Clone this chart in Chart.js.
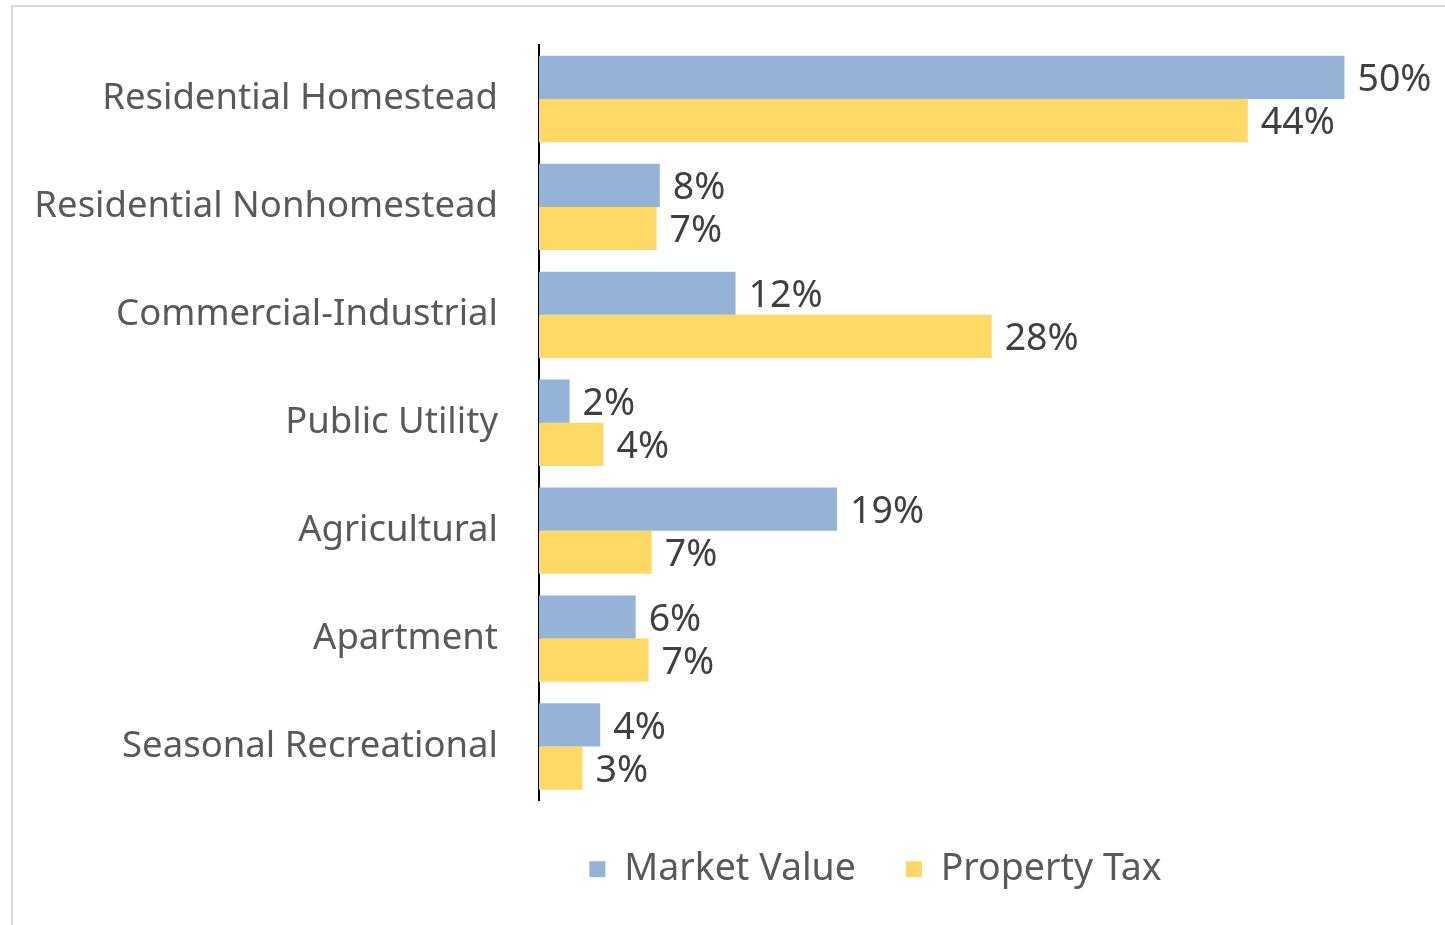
<!DOCTYPE html>
<html>
<head>
<meta charset="utf-8">
<script src="https://cdn.jsdelivr.net/npm/chart.js@4.4.0/dist/chart.umd.min.js"></script>
<style>
  html, body { margin: 0; padding: 0; background: #fff; }
  #wrap { position: relative; width: 1445px; height: 925px; overflow: hidden; }
  #frame { position: absolute; left: 11px; top: 5px; width: 1460px; height: 940px; border: 2px solid #d9d9d9; box-sizing: border-box; }
  canvas { position: absolute; left: 0; top: 0; }
</style>
</head>
<body>
<div id="wrap">
  <div id="frame"></div>
  <canvas id="c" width="1445" height="925"></canvas>
</div>
<script>
const categories = [
  "Residential Homestead",
  "Residential Nonhomestead",
  "Commercial-Industrial",
  "Public Utility",
  "Agricultural",
  "Apartment",
  "Seasonal Recreational"
];
const marketValue = [50, 7.5, 12.2, 1.9, 18.5, 6.0, 3.8];
const propertyTax = [44, 7.3, 28.1, 4.0, 7.0, 6.8, 2.7];
const seriesNames = ["Market Value", "Property Tax"];

const FONT = "'Noto Sans', 'Open Sans', sans-serif";

const valueLabels = {
  id: 'valueLabels',
  afterLayout(chart) {
    if (chart.legend) {
      chart.legend.left += 163;
      chart.legend.right += 163;
    }
  },
  afterDatasetsDraw(chart) {
    const ctx = chart.ctx;
    ctx.save();
    ctx.font = "37.5px " + FONT;
    ctx.fillStyle = '#404040';
    ctx.textAlign = 'left';
    ctx.textBaseline = 'middle';
    chart.data.datasets.forEach((ds, di) => {
      const meta = chart.getDatasetMeta(di);
      meta.data.forEach((el, i) => {
        const v = ds.data[i];
        ctx.fillText(Math.round(v) + '%', el.x + 13, el.y + 3);
      });
    });
    ctx.restore();
  }
};

new Chart(document.getElementById('c'), {
  type: 'bar',
  data: {
    labels: categories,
    datasets: [
      { label: seriesNames[0], data: marketValue, backgroundColor: '#95b3d7', categoryPercentage: 0.8, barPercentage: 1.0 },
      { label: seriesNames[1], data: propertyTax, backgroundColor: '#ffd966', categoryPercentage: 0.8, barPercentage: 1.0 }
    ]
  },
  options: {
    indexAxis: 'y',
    responsive: false,
    animation: false,
    devicePixelRatio: 1,
    layout: { padding: { top: 45, right: 20, bottom: 27, left: 0 } },
    scales: {
      x: { display: false, min: 0, max: 55 },
      y: {
        grid: { display: false, drawTicks: false },
        border: { display: true, color: '#000', width: 2 },
        ticks: { color: '#595959', font: { family: FONT, size: 36.5 }, padding: 41 },
        afterFit(scale) { scale.width = 539; scale.paddingTop = 0; scale.paddingBottom = 0; }
      }
    },
    plugins: {
      tooltip: { enabled: false },
      legend: {
        position: 'bottom',
        labels: {
          color: '#595959',
          font: { family: FONT, size: 37.5 },
          boxWidth: 16,
          boxHeight: 16,
          padding: 50
        }
      }
    }
  },
  plugins: [valueLabels]
});
</script>
</body>
</html>
